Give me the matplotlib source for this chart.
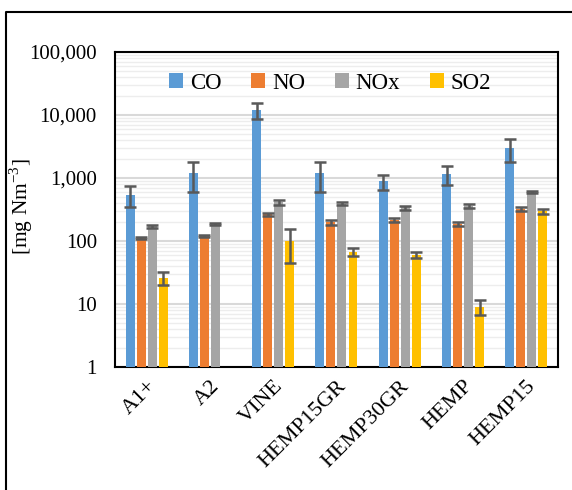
import numpy as np
import matplotlib
matplotlib.use("Agg")
import matplotlib.pyplot as plt
from matplotlib.lines import Line2D
from matplotlib.ticker import FixedLocator, LogLocator, NullFormatter

# data
samples = ["A1+", "A2", "VINE", "HEMP15GR", "HEMP30GR", "HEMP", "HEMP15"]
gases = ["CO", "NO", "NOx", "SO2"]
colors = ["#5B9BD5", "#ED7D31", "#A5A5A5", "#FFC000"]

co = [540, 1200, 12000, 1200, 880, 1150, 3000]
co_err = [200, 600, 3500, 600, 230, 380, 1200]
no = [112, 120, 265, 200, 215, 185, 320]
no_err = [5, 5, 15, 18, 15, 15, 20]
nox = [170, 185, 410, 390, 340, 360, 600]
nox_err = [8, 8, 40, 20, 25, 30, 20]
so2 = [26, np.nan, 100, 68, 60, 9, 295]
so2_err = [6, np.nan, 55, 10, 6, 2.4, 25]

ytick_vals = [1, 10, 100, 1000, 10000, 100000]
ytick_labels = ["1", "10", "100", "1,000", "10,000", "100,000"]

plt.rcParams["font.family"] = ["Liberation Serif", "DejaVu Serif"]
plt.rcParams["mathtext.fontset"] = "custom"
plt.rcParams["mathtext.rm"] = "Liberation Serif"

fig = plt.figure(figsize=(5.72, 4.90), dpi=100)
ax = fig.add_axes([0.201, 0.251, 0.7745, 0.643])

values = [co, no, nox, so2]
errors = [co_err, no_err, nox_err, so2_err]
x = np.arange(len(samples))
step = 0.174
width = 0.142
for i, (name, vals, errs, col) in enumerate(zip(gases, values, errors, colors)):
    pos = x + (i - 1.5) * step
    ax.bar(pos, vals, width, color=col, label=name, zorder=3)
    ax.errorbar(pos, vals, yerr=errs, fmt="none", ecolor="#595959",
                elinewidth=1.8, capsize=4, capthick=1.8, zorder=4)

ax.set_yscale("log")
ax.set_ylim(1, 100000)
ax.set_xlim(-0.5, len(samples) - 0.5)
ax.yaxis.set_major_locator(FixedLocator(ytick_vals))
ax.set_yticklabels(ytick_labels)
ax.yaxis.set_minor_locator(LogLocator(base=10, subs=np.arange(2, 10)))
ax.yaxis.set_minor_formatter(NullFormatter())
ax.grid(which="major", axis="y", color="#D9D9D9", linewidth=1.5, zorder=0)
ax.grid(which="minor", axis="y", color="#EDEDED", linewidth=1.0, zorder=0)
ax.tick_params(axis="y", which="both", length=0, labelsize=15, pad=13)
ax.tick_params(axis="x", length=0, labelsize=16, pad=7)
ax.set_xticks(x)
ax.set_xticklabels(samples, rotation=45, ha="right", rotation_mode="anchor")
for s in ax.spines.values():
    s.set_linewidth(1.5)
    s.set_color("black")

ax.set_ylabel("[mg Nm$^{\\mathregular{-3}}$]", fontsize=15.5)
ax.yaxis.set_label_coords(-0.18, 0.51)

ax.legend(loc="upper center", ncol=4, frameon=False, fontsize=16.5,
          bbox_to_anchor=(0.486, 1.0), handlelength=0.6, handleheight=0.6,
          handletextpad=0.3, columnspacing=1.3)

# outer frame (left and top lines)
fig.add_artist(Line2D([0.0105, 0.0105, 1.0], [0.0, 0.9755, 0.9755],
                      transform=fig.transFigure, color="black", linewidth=1.5))

fig.savefig("out.png", dpi=100)
